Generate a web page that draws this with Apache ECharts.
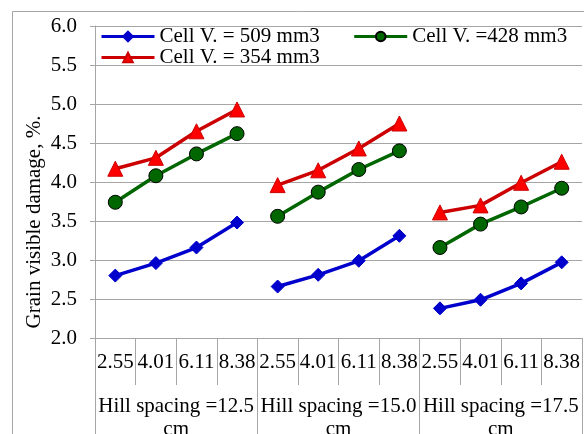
<!DOCTYPE html>
<html>
<head>
<meta charset="utf-8">
<script src="https://cdn.jsdelivr.net/npm/echarts@6/dist/echarts.min.js"></script>
<style>
  html, body { margin: 0; padding: 0; background: #fff; }
  #chart { width: 584px; height: 434px; }
</style>
</head>
<body>
<div id="chart"></div>
<script>
// categories (cell area) and hill spacing groups
const categories = ["2.55", "4.01", "6.11", "8.38", "2.55", "4.01", "6.11", "8.38", "2.55", "4.01", "6.11", "8.38"];
const groups = ["Hill spacing =12.5\ncm", "Hill spacing =15.0\ncm", "Hill spacing =17.5\ncm"];
const names = ["Cell V. = 509 mm3", "Cell V. =428 mm3", "Cell V. = 354 mm3"];
const v509 = [2.80, 2.96, 3.16, 3.48, 2.66, 2.81, 2.99, 3.31, 2.38, 2.49, 2.70, 2.97];
const v428 = [3.74, 4.08, 4.36, 4.62, 3.56, 3.87, 4.16, 4.40, 3.16, 3.46, 3.68, 3.92];
const v354 = [4.17, 4.31, 4.65, 4.93, 3.96, 4.15, 4.43, 4.75, 3.61, 3.70, 3.99, 4.26];

const FONT = "Liberation Serif";
const GRAY = "#a6a6a6";

const styles = [
  { data: v509, symbol: "diamond", symbolSize: 13, line: "#0000cc", fill: "#0000cc", border: "#0000cc" },
  { data: v428, symbol: "circle", symbolSize: 14, line: "#006600", fill: "#006600", border: "#000000" },
  { data: v354, symbol: "triangle", symbolSize: 15, line: "#cc0000", fill: "#ff0000", border: "#cc0000" }
];

// one line per group so the lines break between hill spacings
const series = [];
styles.forEach((s, k) => {
  for (let g = 0; g < groups.length; g++) {
    const pts = [];
    for (let i = g * 4; i < g * 4 + 4; i++) pts.push([i, s.data[i]]);
    series.push({
      name: names[k],
      type: "line",
      data: pts,
      symbol: s.symbol,
      symbolSize: s.symbolSize,
      lineStyle: { color: s.line, width: 3.5 },
      itemStyle: { color: s.fill, borderColor: s.border, borderWidth: 1 },
      z: 3 + k
    });
  }
});

const chart = echarts.init(document.getElementById("chart"));
const legendBase = {
  left: 95,
  orient: "horizontal",
  itemWidth: 53,
  itemHeight: 12,
  itemGap: 33,
  lineStyle: { width: 3 },
  textStyle: { fontFamily: FONT, fontSize: 21, color: "#000", lineHeight: 21 }
};
chart.setOption({
  animation: false,
  backgroundColor: "#fff",
  textStyle: { fontFamily: FONT },
  graphic: [{
    type: "rect",
    shape: { x: 12.5, y: 11.5, width: 700, height: 600 },
    style: { fill: null, stroke: GRAY, lineWidth: 1 },
    silent: true
  }],
  legend: [
    Object.assign({}, legendBase, { top: 21, data: [names[0], names[1]] }),
    Object.assign({}, legendBase, { top: 42, data: [names[2]] })
  ],
  grid: { left: 95, right: 2, top: 26, bottom: 96, containLabel: false, outerBoundsMode: "none" },
  xAxis: [
    {
      type: "category",
      data: categories,
      boundaryGap: true,
      axisLine: { show: true, lineStyle: { color: GRAY } },
      axisTick: { show: true, interval: 0, length: 47, lineStyle: { color: GRAY } },
      axisLabel: { interval: 0, margin: 13, fontSize: 21, color: "#000", fontFamily: FONT, lineHeight: 22 },
      splitLine: { show: false }
    },
    {
      type: "category",
      data: groups,
      position: "bottom",
      boundaryGap: true,
      axisLine: { show: false },
      axisTick: { show: true, interval: 0, length: 100, lineStyle: { color: GRAY } },
      axisLabel: { interval: 0, margin: 57, fontSize: 21, color: "#000", fontFamily: FONT, lineHeight: 23 },
      splitLine: { show: false }
    }
  ],
  yAxis: {
    type: "value",
    min: 2,
    max: 6,
    interval: 0.5,
    name: "Grain visible damage, %.",
    nameLocation: "middle",
    nameGap: 50,
    nameMoveOverlap: false,
    nameTextStyle: { fontSize: 21, color: "#000", fontFamily: FONT, lineHeight: 22, padding: [0, 80, 0, 0] },
    axisLine: { show: true, lineStyle: { color: GRAY } },
    axisTick: { show: true, length: 5, lineStyle: { color: GRAY } },
    axisLabel: { margin: 18, fontSize: 21, color: "#000", fontFamily: FONT, lineHeight: 22, formatter: v => v.toFixed(1) },
    splitLine: { show: true, lineStyle: { color: GRAY } }
  },
  series: series
});
</script>
</body>
</html>
